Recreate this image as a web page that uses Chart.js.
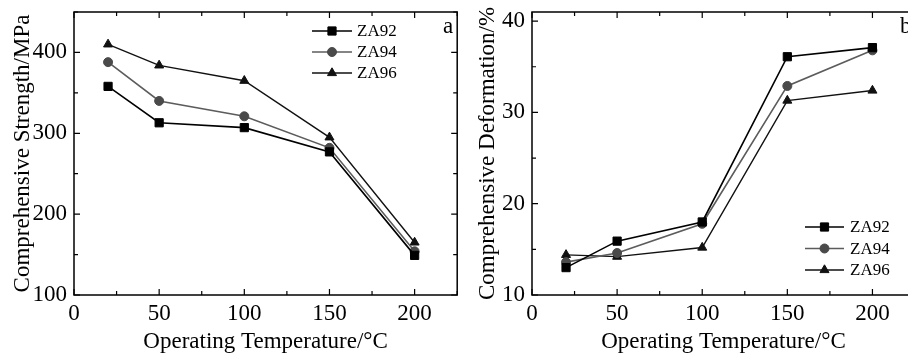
<!DOCTYPE html>
<html>
<head>
<meta charset="utf-8">
<script src="https://cdn.jsdelivr.net/npm/chart.js@4.4.0/dist/chart.umd.min.js"></script>
<style>
  html, body { margin: 0; padding: 0; background: #fff; overflow: hidden; width: 908px; height: 358px; }
  #ca { position: absolute; left: 0; top: 0; }
  #cb { position: absolute; left: 454px; top: 0; }
</style>
</head>
<body>
<canvas id="ca" width="464" height="358"></canvas>
<canvas id="cb" width="470" height="358"></canvas>
<script>
// operating temperature (°C)
const temps = [20, 50, 100, 150, 200];
const seriesNames = ['ZA92', 'ZA94', 'ZA96'];

// panel a - comprehensive strength (MPa)
const strengthZA92 = [358, 313, 307, 277, 149];
const strengthZA94 = [388, 340, 321, 282, 154];
const strengthZA96 = [410, 384, 365, 295, 165];

// panel b - comprehensive deformation (%)
const deformZA92 = [13.0, 15.9, 18.0, 36.1, 37.1];
const deformZA94 = [13.6, 14.6, 17.8, 32.9, 36.8];
const deformZA96 = [14.4, 14.2, 15.2, 31.3, 32.4];

const xTicks = [0, 50, 100, 150, 200];
const strengthTicks = [100, 200, 300, 400];
const deformTicks = [10, 20, 30, 40];

const FONT = 'Liberation Serif, Times New Roman, serif';

const styles = [
  { borderColor: '#000', borderWidth: 1.6, pointStyle: 'rect', pointRadius: 5.8, pointBackgroundColor: '#000', pointBorderColor: '#000' },
  { borderColor: '#5c5c5c', borderWidth: 1.6, pointStyle: 'circle', pointRadius: 4.5, pointBackgroundColor: '#4a4a4a', pointBorderColor: '#4a4a4a' },
  { borderColor: '#111', borderWidth: 1.4, pointStyle: 'triangle', pointRadius: 5.2, pointBackgroundColor: '#111', pointBorderColor: '#111' }
];

function toPoints(ys) {
  return temps.map((t, i) => ({ x: t, y: ys[i] }));
}

// frame with inward major/minor ticks on all four sides + panel letter
const framePlugin = {
  id: 'frame',
  afterDraw(chart, args, opts) {
    const ctx = chart.ctx;
    const a = chart.chartArea;
    ctx.save();
    ctx.strokeStyle = '#000';
    ctx.lineWidth = 1.5;
    ctx.strokeRect(a.left, a.top, a.right - a.left, a.bottom - a.top);
    ctx.lineWidth = 1.2;
    const xs = chart.scales.x, ys = chart.scales.y;
    xs.ticks.forEach(t => {
      const px = xs.getPixelForValue(t.value);
      const len = t.label !== '' ? 6 : 4;
      ctx.beginPath();
      ctx.moveTo(px, a.bottom); ctx.lineTo(px, a.bottom - len);
      ctx.moveTo(px, a.top); ctx.lineTo(px, a.top + len);
      ctx.stroke();
    });
    ys.ticks.forEach(t => {
      const py = ys.getPixelForValue(t.value);
      const len = t.label !== '' ? 6 : 4;
      ctx.beginPath();
      ctx.moveTo(a.left, py); ctx.lineTo(a.left + len, py);
      ctx.moveTo(a.right, py); ctx.lineTo(a.right - len, py);
      ctx.stroke();
    });
    ctx.fillStyle = '#000';
    ctx.font = '23px ' + FONT;
    ctx.textBaseline = 'alphabetic';
    ctx.textAlign = 'left';
    ctx.fillText(opts.letter, opts.letterX, opts.letterY);
    ctx.restore();
  }
};

// legend drawn as line + marker, like the original
const lineKeyPlugin = {
  id: 'lineKey',
  afterDraw(chart, args, opts) {
    const ctx = chart.ctx;
    ctx.save();
    chart.data.datasets.forEach((ds, i) => {
      const y = opts.y + i * opts.rowH;
      ctx.strokeStyle = ds.borderColor;
      ctx.lineWidth = ds.borderWidth;
      ctx.beginPath();
      ctx.moveTo(opts.x, y);
      ctx.lineTo(opts.x + opts.len, y);
      ctx.stroke();
      ctx.fillStyle = ds.pointBackgroundColor;
      ctx.strokeStyle = ds.pointBorderColor;
      ctx.lineWidth = 1;
      Chart.helpers.drawPoint(ctx, { pointStyle: ds.pointStyle, radius: ds.pointRadius, rotation: 0, borderWidth: 1 }, opts.x + opts.len / 2, y);
      ctx.fillStyle = '#000';
      ctx.font = '17px ' + FONT;
      ctx.textBaseline = 'middle';
      ctx.textAlign = 'left';
      ctx.fillText(ds.label, opts.x + opts.len + opts.gap, y + 1);
    });
    ctx.restore();
  }
};

function makeChart(canvasId, seriesData, yMin, yMax, yStep, yLabels, yTitle, cfg) {
  const datasets = seriesData.map((ys, i) => Object.assign({
    label: seriesNames[i],
    data: toPoints(ys),
    showLine: true,
    tension: 0,
    pointBorderWidth: 1,
    clip: false
  }, styles[i]));

  return new Chart(document.getElementById(canvasId), {
    type: 'scatter',
    data: { datasets: datasets },
    options: {
      responsive: false,
      animation: false,
      layout: { padding: { top: cfg.top, right: cfg.right, left: 0, bottom: 0 } },
      plugins: {
        legend: { display: false },
        tooltip: { enabled: false },
        frame: { letter: cfg.letter, letterX: cfg.letterX, letterY: cfg.letterY },
        lineKey: cfg.key
      },
      scales: {
        x: {
          type: 'linear', min: 0, max: 225,
          afterFit: s => { s.height = cfg.xHeight; s.paddingLeft = 0; s.paddingRight = 0; },
          afterBuildTicks: s => { s.ticks = []; for (let v = 0; v <= 225; v += 25) s.ticks.push({ value: v }); },
          grid: { display: false, drawTicks: false },
          border: { display: false },
          ticks: {
            padding: 5, color: '#000', font: { family: FONT, size: 23 },
            autoSkip: false, maxRotation: 0,
            callback: v => xTicks.includes(v) ? String(v) : ''
          },
          title: { display: true, text: 'Operating Temperature/°C', color: '#000', font: { family: FONT, size: 23 }, padding: { top: 0, bottom: 2 } }
        },
        y: {
          type: 'linear', min: yMin, max: yMax,
          afterFit: s => { s.width = cfg.yWidth; s.paddingTop = 0; s.paddingBottom = 0; },
          afterBuildTicks: s => { s.ticks = []; for (let v = yMin; v <= yMax; v += yStep) s.ticks.push({ value: v }); },
          grid: { display: false, drawTicks: false },
          border: { display: false },
          ticks: {
            padding: cfg.yPad, color: '#000', font: { family: FONT, size: 23 },
            autoSkip: false,
            callback: v => yLabels.includes(v) ? String(v) : ''
          },
          title: { display: true, text: yTitle, color: '#000', font: { family: FONT, size: 23 }, padding: { top: cfg.yTitlePad, bottom: 0 } }
        }
      }
    },
    plugins: [framePlugin, lineKeyPlugin]
  });
}

makeChart('ca', [strengthZA92, strengthZA94, strengthZA96], 100, 450, 50, strengthTicks,
  'Comprehensive Strength/MPa', {
    top: 12, right: 3, xHeight: 63, yWidth: 74, yPad: 7, yTitlePad: 9,
    letter: 'a', letterX: 443, letterY: 33,
    key: { x: 312, y: 31, len: 40, gap: 5, rowH: 21 }
  });

makeChart('cb', [deformZA92, deformZA94, deformZA96], 10, 41, 5, deformTicks,
  'Comprehensive Deformation/%', {
    top: 12, right: 9, xHeight: 63, yWidth: 78, yPad: 7, yTitlePad: 20,
    letter: 'b', letterX: 446, letterY: 33,
    key: { x: 351, y: 227, len: 39, gap: 6, rowH: 21.5 }
  });
</script>
</body>
</html>
